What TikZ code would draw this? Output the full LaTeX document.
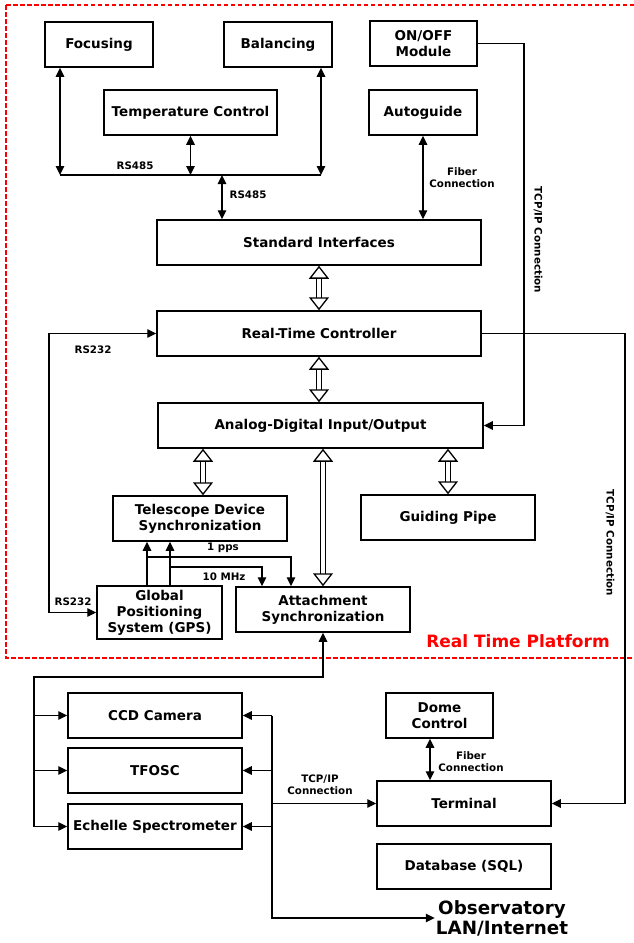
\documentclass[tikz,border=0pt]{standalone}
\usepackage{fontspec}
\setmainfont{DejaVu Sans}
\usetikzlibrary{calc,arrows.meta}
\tikzset{x=1pt,y=-1pt}
\tikzset{>={Triangle[length=9pt,width=8.5pt]}}
\tikzset{blk/.style={draw, line width=1.5pt, minimum height=45, align=center, inner sep=2pt,
                     font=\bfseries\fontsize{13.5}{16}\selectfont},
         lbl/.style={font=\bfseries\fontsize{10.3}{12}\selectfont, align=center, inner sep=1pt},
         con/.style={line width=1.3pt},
         hollow/.style={double, double distance=3.4pt, line width=1.3pt,
                        {Triangle[open,length=13pt,width=20pt]}-{Triangle[open,length=13pt,width=20pt]}}}

\begin{document}
\begin{tikzpicture}
\useasboundingbox (0,0) rectangle (634,943);

% platform frame
\draw[red, dashed, line width=1.3pt, dash pattern=on 4.5pt off 2.5pt] (6,5) rectangle (640,658);
\node[font=\bfseries\fontsize{17}{19}\selectfont, text=red] (rtp) at (518,641) {Real Time Platform};

% top row
\node[blk, minimum width=108] (foc) at (99,44.5) {Focusing};
\node[blk, minimum width=108] (bal) at (278,44.5) {Balancing};
\node[blk, minimum width=107] (onoff) at (423.5,43.5) {ON/OFF\\Module};
\node[blk, minimum width=173] (temp) at (190.5,112.5) {Temperature Control};
\node[blk, minimum width=108] (auto) at (423,112.5) {Autoguide};

% main column
\node[blk, minimum width=324] (std) at (319,242.5) {Standard Interfaces};
\node[blk, minimum width=324] (rtc) at (319,333.5) {Real-Time Controller};
\node[blk, minimum width=325] (adio) at (320.5,425.5) {Analog-Digital Input/Output};

\node[blk, minimum width=174] (tds) at (200,518.5) {Telescope Device\\Synchronization};
\node[blk, minimum width=174] (guide) at (448,517.5) {Guiding Pipe};
\node[blk, minimum width=125, minimum height=53] (gps) at (159.5,612.5) {Global\\Positioning\\System (GPS)};
\node[blk, minimum width=174] (att) at (323,609.5) {Attachment\\Synchronization};

% outside the platform
\node[blk, minimum width=174] (ccd) at (155,715.5) {CCD Camera};
\node[blk, minimum width=174] (tfosc) at (155,770.5) {TFOSC};
\node[blk, minimum width=174] (ech) at (155,826.5) {Echelle Spectrometer};
\node[blk, minimum width=107] (dome) at (439.5,715.5) {Dome\\Control};
\node[blk, minimum width=174] (term) at (464,803.5) {Terminal};
\node[blk, minimum width=174] (db) at (464,866.5) {Database (SQL)};
\node[font=\bfseries\fontsize{18.3}{20}\selectfont, align=center, inner sep=1pt] (lan) at (502,918) {Observatory\\LAN/Internet};

% RS485 bus
\coordinate (busL) at (60,175);
\coordinate (busR) at (321,175);
\coordinate (busS) at (222,175);
\draw[con] (busL) -- (busR);
\draw[con, <->] (busL |- foc.south) -- (busL);
\draw[con, <->] (busR |- bal.south) -- (busR);
\draw[con, <->] (temp.south) -- (temp.south |- busL);
\draw[con, <->] (busS) -- (busS |- std.north);
\node[lbl] (rsa) at (135,166) {RS485};
\node[lbl] (rsb) at (248,195) {RS485};

\draw[con, <->] (auto.south) -- (auto.south |- std.north);
\node[lbl] (fiba) at (462,178) {Fiber\\Connection};

% TCP/IP lines
\coordinate (tcpA) at (524,43.5);
\draw[con, ->] (onoff.east) -- (tcpA) -- (tcpA |- adio.east) -- (adio.east);
\node[lbl, rotate=-90] (tcpa) at (538,240) {TCP/IP Connection};
\coordinate (tcpB) at (625,333.5);
\draw[con, ->] (rtc.east) -- (tcpB) -- (tcpB |- term.east) -- (term.east);
\node[lbl, rotate=-90] (tcpb) at (610,543) {TCP/IP Connection};

% internal buses
\draw[hollow] (std.south) -- (rtc.north);
\draw[hollow] (rtc.south) -- (rtc.south |- adio.north);
\draw[hollow] ([xshift=3]tds.north |- adio.south) -- ([xshift=3]tds.north);
\draw[hollow] (guide.north |- adio.south) -- (guide.north);
\draw[hollow] (att.north |- adio.south) -- (att.north);

% RS232
\coordinate (rsL) at (49,333.5);
\draw[con, <->] (gps.west) -| (rsL) -- (rtc.west);
\node[lbl] (rsc) at (93,350) {RS232};
\node[lbl] (rsd) at (73,602) {RS232};

% GPS timing
\coordinate (ppsA) at ([xshift=-12.5]gps.north);
\coordinate (mhzA) at ([xshift=10.5]gps.north);
\coordinate (ppsB) at (291,557);
\coordinate (mhzB) at (262,567);
\draw[con, ->] (ppsA) -- (ppsA |- tds.south);
\draw[con, ->] (mhzA) -- (mhzA |- tds.south);
\draw[con, ->] (ppsA |- ppsB) -- (ppsB) -- (ppsB |- att.north);
\draw[con, ->] (mhzA |- mhzB) -- (mhzB) -- (mhzB |- att.north);
\node[lbl] (pps) at (223,548) {1 pps};
\node[lbl] (mhz) at (224,577) {10 MHz};

% instruments
\coordinate (instL) at (34,677);
\draw[con, ->] (instL |- ech.west) -- (instL) -- (instL -| att.south) -- (att.south);
\draw[con, ->] (instL |- ccd.west) -- (ccd.west);
\draw[con, ->] (instL |- tfosc.west) -- (tfosc.west);
\draw[con, ->] (instL |- ech.west) -- (ech.west);

% network
\coordinate (netT) at (272,715.5);
\coordinate (netB) at (272,918);
\draw[con, ->] (netT) -- (ccd.east);
\draw[con, ->] (netT |- tfosc.east) -- (tfosc.east);
\draw[con, ->] (netT |- ech.east) -- (ech.east);
\draw[con, ->] (netT |- term.west) -- (term.west);
\draw[con, ->] (netT) -- (netB) -- (lan.west);
\node[lbl] (tcpc) at (320,785) {TCP/IP\\Connection};

\draw[con, <->] ([xshift=-9.5]dome.south) -- ([xshift=-9.5]dome.south |- term.north);
\node[lbl] (fibb) at (471,762) {Fiber\\Connection};

\end{tikzpicture}
\end{document}
